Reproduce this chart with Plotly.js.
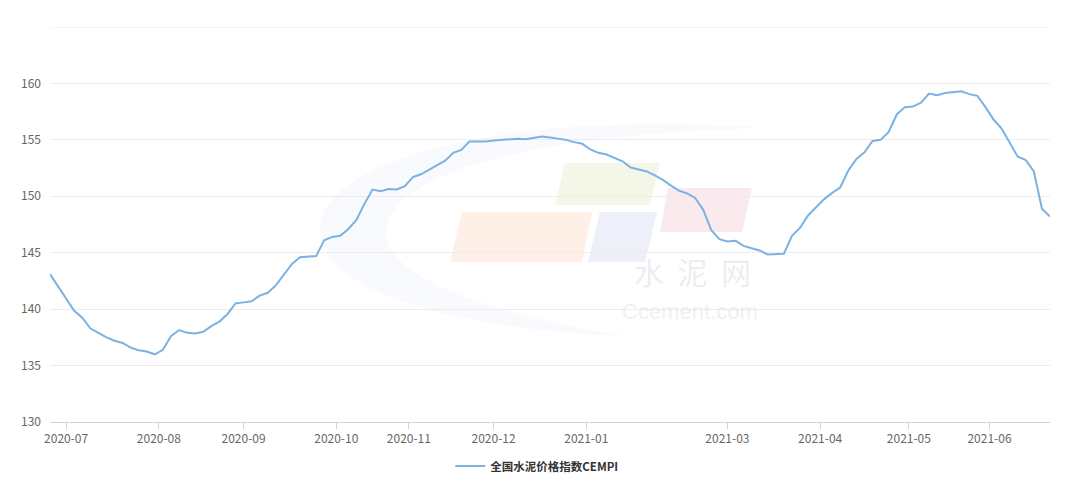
<!DOCTYPE html>
<html>
<head>
<meta charset="utf-8">
<script src="https://cdn.plot.ly/plotly-3.0.1.min.js"></script>
<style>
  html, body { margin: 0; padding: 0; background: #ffffff; }
  #chart { width: 1080px; height: 483px; }
</style>
</head>
<body>
<div id="chart"></div>
<script>
// Series name
const seriesName = '全国水泥价格指数CEMPI';

// Sample positions: working-day index (every 2nd trading day), 2020-06-24 .. 2021-06-22
const dayIndex = [];
for (let i = 0; i <= 248; i += 2) dayIndex.push(i);

// CEMPI values, one per sample
const cempi = [
  143.1, 142.0, 141.0, 139.85, 139.25, 138.3, 137.9, 137.5, 137.2, 137.0,
  136.6, 136.35, 136.25, 136.0, 136.4, 137.6, 138.15, 137.9, 137.85, 138.0,
  138.5, 138.9, 139.55, 140.5, 140.6, 140.7, 141.2, 141.45, 142.1, 143.0,
  144.0, 144.6, 144.65, 144.7, 146.1, 146.4, 146.5, 147.1, 147.9, 149.35,
  150.6, 150.45, 150.65, 150.6, 150.9, 151.7, 151.95, 152.35, 152.7, 153.15,
  153.85, 154.1, 154.85, 154.85, 154.85, 154.95, 155.0, 155.05, 155.1, 155.05,
  155.15, 155.3, 155.2, 155.1, 155.0, 154.8, 154.65, 154.15, 153.85, 153.7,
  153.4, 153.1, 152.55, 152.35, 152.2, 151.85, 151.45, 150.95, 150.5, 150.25,
  149.85, 148.8, 147.0, 146.2, 146.0, 146.05, 145.6, 145.4, 145.2, 144.85,
  144.85, 144.9, 146.5, 147.2, 148.3, 149.0, 149.75, 150.3, 150.8, 152.3,
  153.3, 153.9, 154.9, 155.0, 155.7, 157.25, 157.9, 157.95, 158.3, 159.1,
  158.95, 159.15, 159.2, 159.3, 159.05, 158.9, 157.9, 156.8, 156.0, 154.7,
  153.5, 153.2, 152.2, 148.9, 148.2
];

// X tick labels (first trading day of each labelled month)
const xTickPos = [4, 27, 48, 71, 89, 110, 133, 168, 191, 213, 233];
const xTickText = ['2020-07', '2020-08', '2020-09', '2020-10', '2020-11', '2020-12',
                   '2021-01', '2021-03', '2021-04', '2021-05', '2021-06'];

// Y ticks
const yTickVals = [130, 135, 140, 145, 150, 155, 160];
const yTickText = ['130', '135', '140', '145', '150', '155', '160'];
const yMax = 165;

// ---- layout helpers (pixel -> paper) ----
const M = {l: 50, r: 30, t: 27, b: 61};
const PW = 1080 - M.l - M.r, PH = 483 - M.t - M.b;
const px = x => (x - M.l) / PW;
const py = y => (483 - M.b - y) / PH;
const P = p => px(p[0]).toFixed(4) + ',' + py(p[1]).toFixed(4);
function poly(pts, color) {
  const d = pts.map((p, i) => (i ? 'L' : 'M') + P(p)).join(' ') + ' Z';
  return {type: 'path', xref: 'paper', yref: 'paper', path: d, fillcolor: color,
          line: {width: 0}, layer: 'below'};
}
const swoosh = {
  type: 'path', xref: 'paper', yref: 'paper', layer: 'below',
  path: 'M' + P([765,128]) +
        ' C' + P([500,108]) + ' ' + P([285,165]) + ' ' + P([325,250]) +
        ' C' + P([355,305]) + ' ' + P([500,332]) + ' ' + P([625,336]) +
        ' C' + P([480,312]) + ' ' + P([370,272]) + ' ' + P([388,222]) +
        ' C' + P([408,165]) + ' ' + P([560,133]) + ' ' + P([765,128]) + ' Z',
  fillcolor: 'rgba(214,226,242,0.17)', line: {width: 0}
};
const shapes = [
  swoosh,
  poly([[565,163],[660,163],[650,205],[555,205]], 'rgba(214,228,170,0.28)'),
  poly([[462,212],[592,212],[582,262],[450,262]], 'rgba(250,196,170,0.28)'),
  poly([[600,212],[657,212],[645,262],[588,262]], 'rgba(190,196,232,0.28)'),
  poly([[668,188],[752,188],[742,232],[660,232]], 'rgba(240,180,192,0.28)'),
  // top gridline (165, unlabelled)
  {type: 'line', xref: 'paper', yref: 'y', x0: 0, x1: 1, y0: yMax, y1: yMax,
   line: {color: '#ececec', width: 1}, layer: 'below'}
];

const trace = {
  type: 'scatter', mode: 'lines', name: seriesName,
  x: dayIndex, y: cempi,
  line: {color: '#7cb2e1', width: 2, shape: 'linear'},
  hoverinfo: 'skip'
};

const font = 'Noto Sans CJK SC, "Noto Sans", sans-serif';
const layout = {
  width: 1080, height: 483,
  margin: M,
  paper_bgcolor: '#ffffff', plot_bgcolor: '#ffffff',
  font: {family: font, size: 12, color: '#666'},
  showlegend: true,
  legend: {orientation: 'h', xref: 'container', yref: 'container',
           x: 0.497, xanchor: 'center', y: (483 - 466) / 483, yanchor: 'middle',
           font: {family: font, size: 11.5, color: '#333', weight: 'bold'}, itemwidth: 30},
  xaxis: {
    range: [0, 248], showgrid: false, zeroline: false,
    showline: true, linecolor: '#ccd3e6', linewidth: 1,
    ticks: 'outside', ticklen: 6, tickcolor: '#ccd3e6', tickwidth: 1,
    tickmode: 'array', tickvals: xTickPos, ticktext: xTickText,
    tickfont: {family: font, size: 12, color: '#666'}
  },
  yaxis: {
    range: [130, yMax], showgrid: true, gridcolor: '#ececec', gridwidth: 1,
    zeroline: false, showline: false, ticks: '',
    tickmode: 'array', tickvals: yTickVals, ticktext: yTickText,
    tickfont: {family: font, size: 12, color: '#666'}, ticklabelstandoff: 8
  },
  shapes: shapes,
  annotations: [
    {xref: 'paper', yref: 'paper', x: px(692), y: py(271), text: '水  泥  网', showarrow: false,
     font: {family: font, size: 30, color: 'rgba(200,204,214,0.35)'}},
    {xref: 'paper', yref: 'paper', x: px(690), y: py(326), text: 'Ccement.com', showarrow: false,
     font: {family: 'Arial, "Liberation Sans", sans-serif', size: 22, color: 'rgba(200,204,214,0.3)'}}
  ]
};

Plotly.newPlot('chart', [trace], layout, {displayModeBar: false, staticPlot: true});
</script>
</body>
</html>
